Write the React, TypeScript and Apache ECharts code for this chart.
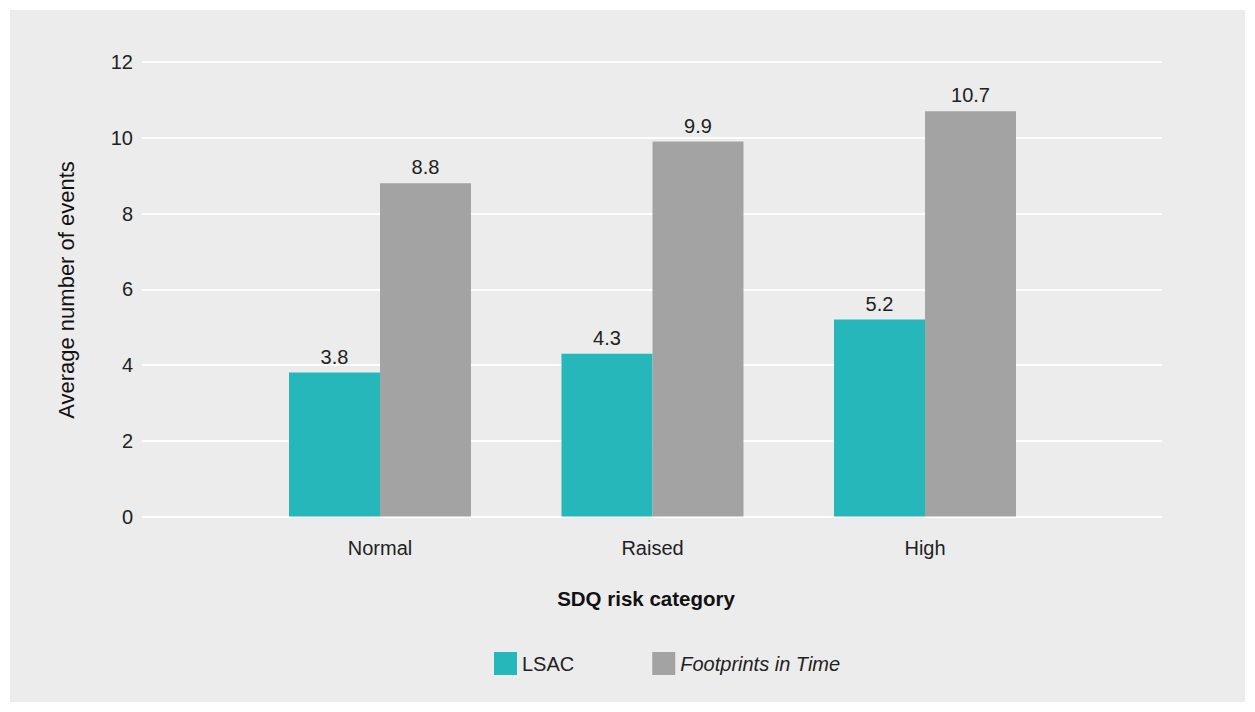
import React, { useEffect, useRef } from "react";
import * as echarts from "echarts";

const categories = ["Normal", "Raised", "High"];
const lsacValues = [3.8, 4.3, 5.2];
const footprintsValues = [8.8, 9.9, 10.7];
const seriesNames = ["LSAC", "Footprints in Time"];
const yTitle = "Average number of events";
const xTitle = "SDQ risk category";

const FONT = "'Liberation Sans', Arial, sans-serif";

export default function App() {
  const ref = useRef<HTMLDivElement>(null);
  useEffect(() => {
    if (!ref.current) return;
    const chart = echarts.init(ref.current, null, { renderer: "svg" });
    chart.setOption({
      animation: false,
      backgroundColor: "#ffffff",
      textStyle: { fontFamily: FONT },
      graphic: [
        {
          type: "rect",
          z: -10,
          shape: { x: 10, y: 10, width: 1235, height: 692 },
          style: { fill: "#ececec" },
        },
        {
          type: "text",
          x: 66,
          y: 290,
          rotation: Math.PI / 2,
          style: {
            text: yTitle,
            fill: "#111",
            font: `500 22px ${FONT}`,
            align: "center",
            verticalAlign: "middle",
          },
        },
        {
          type: "text",
          x: 646,
          y: 598,
          style: {
            text: xTitle,
            fill: "#111",
            font: `bold 20.5px ${FONT}`,
            align: "center",
            verticalAlign: "middle",
          },
        },
      ],
      legend: {
        left: 489,
        top: 647,
        itemWidth: 23,
        itemHeight: 23,
        itemGap: 78,
        icon: "rect",
        textStyle: { fontSize: 20, color: "#222", fontFamily: FONT },
        data: [
          { name: seriesNames[0] },
          { name: seriesNames[1], textStyle: { fontStyle: "italic" } },
        ],
      },
      grid: [
        { left: 142, right: 93, top: 62, bottom: 195.5 },
        { left: 243.75, right: 193.75, top: 62, bottom: 195.5 },
      ],
      xAxis: [
        { type: "value", gridIndex: 0, show: false, min: 0, max: 1 },
        {
          type: "category",
          gridIndex: 1,
          data: categories,
          axisLine: { show: false },
          axisTick: { show: false },
          axisLabel: { color: "#222", fontSize: 20, margin: 21 },
        },
      ],
      yAxis: [
        {
          type: "value",
          gridIndex: 0,
          min: 0,
          max: 12,
          interval: 2,
          axisLine: { show: false },
          axisTick: { show: false },
          axisLabel: { color: "#222", fontSize: 20, margin: 9 },
          splitLine: { lineStyle: { color: "#ffffff", width: 2 } },
        },
        { type: "value", gridIndex: 1, min: 0, max: 12, show: false },
      ],
      series: [
        {
          name: seriesNames[0],
          type: "bar",
          xAxisIndex: 1,
          yAxisIndex: 1,
          data: lsacValues,
          barWidth: 91,
          barGap: "0%",
          itemStyle: { color: "#25b7ba" },
          label: { show: true, position: "top", distance: 6, fontSize: 20, color: "#222" },
        },
        {
          name: seriesNames[1],
          type: "bar",
          xAxisIndex: 1,
          yAxisIndex: 1,
          data: footprintsValues,
          barWidth: 91,
          barGap: "0%",
          itemStyle: { color: "#a3a3a3" },
          label: { show: true, position: "top", distance: 6, fontSize: 20, color: "#222" },
        },
      ],
    });
    return () => chart.dispose();
  }, []);
  return (
    <div
      ref={ref}
      style={{ position: "fixed", left: 0, top: 0, width: 1255, height: 712 }}
    />
  );
}
